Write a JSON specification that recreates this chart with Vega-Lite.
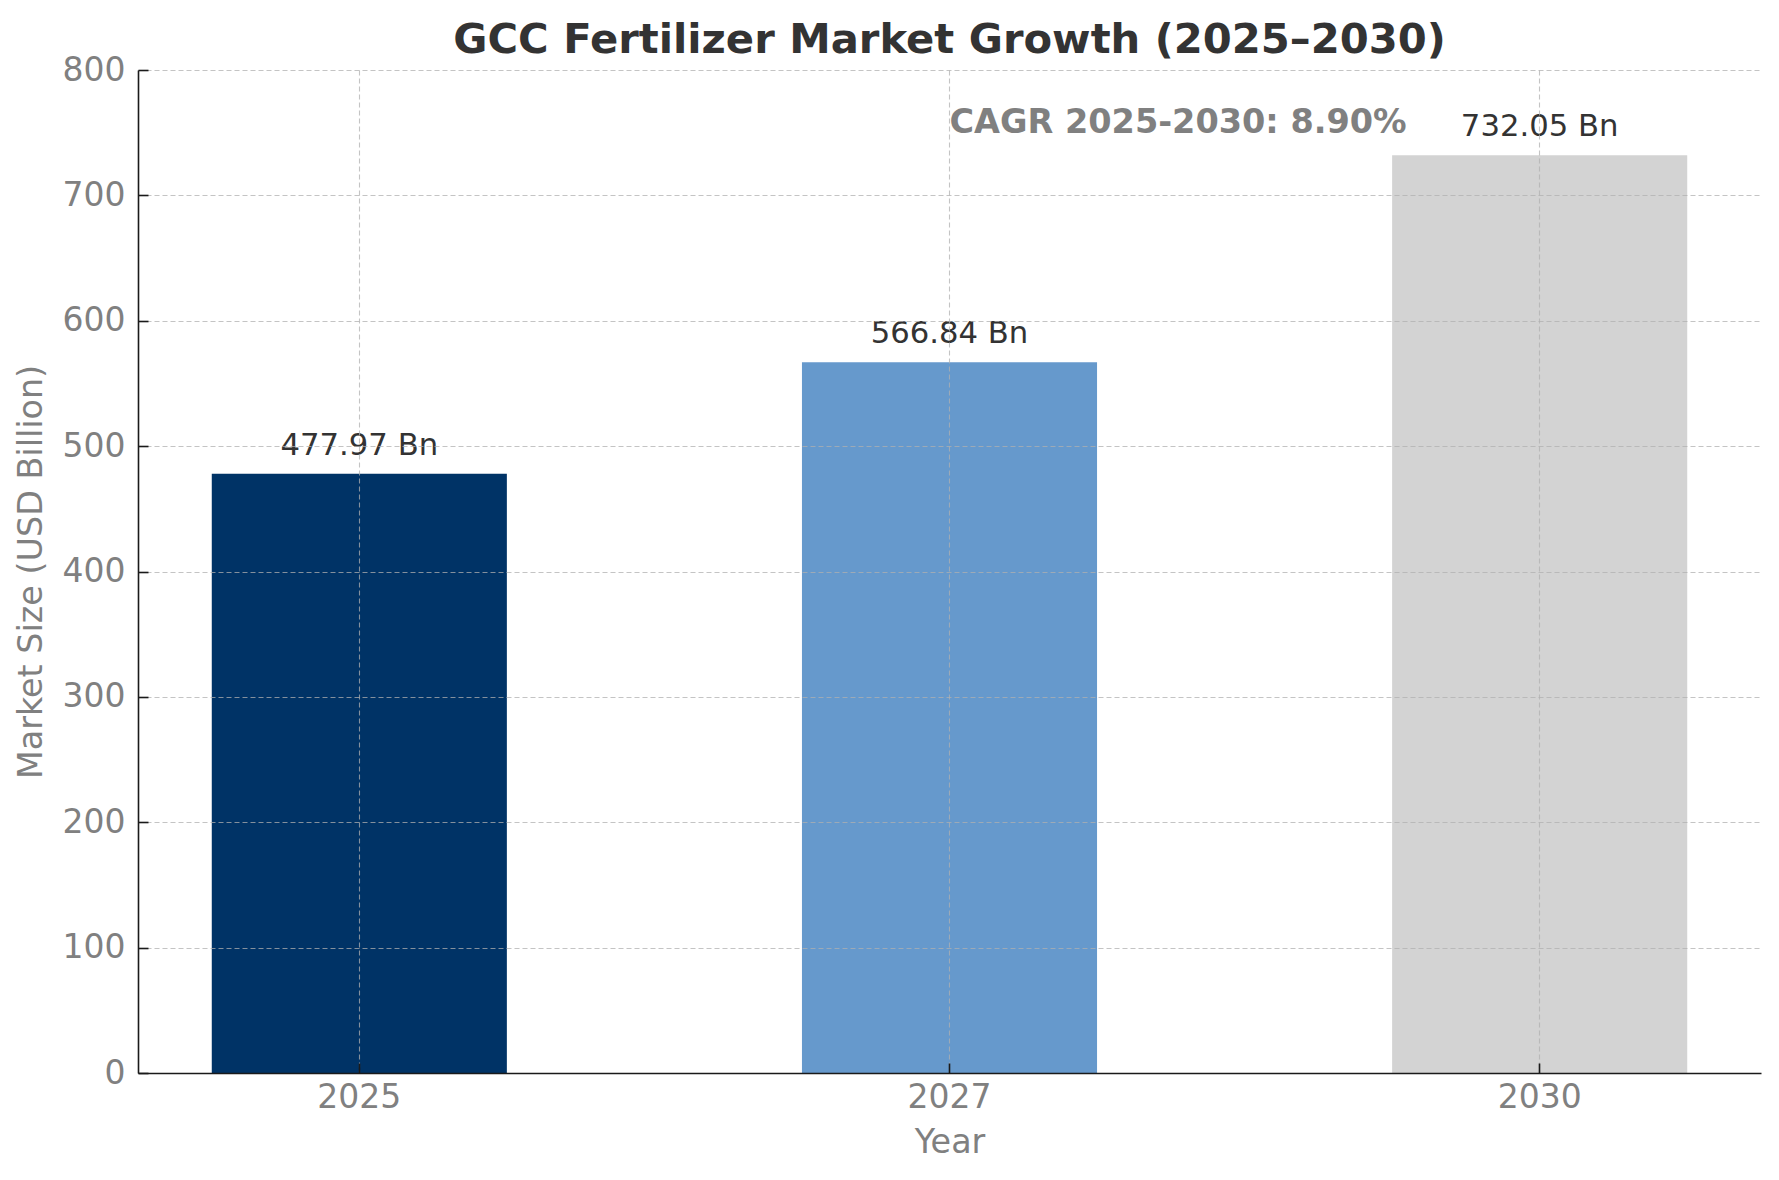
{
  "$schema": "https://vega.github.io/schema/vega-lite/v6.json",
  "width": 1623,
  "height": 1003,
  "autosize": {"type": "none"},
  "padding": {"left": 138, "top": 70, "right": 18, "bottom": 107},
  "background": "white",
  "title": {
    "text": "GCC Fertilizer Market Growth (2025–2030)",
    "font": "DejaVu Sans",
    "fontSize": 41.7,
    "fontWeight": "bold",
    "color": "#333333",
    "anchor": "middle",
    "frame": "group",
    "offset": -8
  },
  "config": {
    "view": {"stroke": null},
    "font": "DejaVu Sans",
    "axis": {
      "labelFont": "DejaVu Sans",
      "titleFont": "DejaVu Sans",
      "labelFontSize": 33,
      "titleFontSize": 33.4,
      "labelColor": "#808080",
      "titleColor": "#808080",
      "titleFontWeight": "normal",
      "domainColor": "#1a1a1a",
      "domainWidth": 1.6,
      "tickColor": "#1a1a1a",
      "tickWidth": 1.6,
      "tickSize": -10,
      "grid": true,
      "gridColor": "#b0b0b0",
      "gridOpacity": 0.75,
      "gridWidth": 1.1,
      "gridDash": [5, 3]
    }
  },
  "data": {
    "values": [
      {"year": "2025", "value": 477.97, "label": "477.97 Bn"},
      {"year": "2027", "value": 566.84, "label": "566.84 Bn"},
      {"year": "2030", "value": 732.05, "label": "732.05 Bn"}
    ]
  },
  "layer": [
    {
      "mark": {"type": "bar"},
      "encoding": {
        "x": {
          "field": "year",
          "type": "nominal",
          "sort": null,
          "scale": {"paddingInner": 0.5, "paddingOuter": 0.125},
          "axis": {
            "title": "Year",
            "labelAngle": 0,
            "bandPosition": 0.5,
            "labelPadding": 18,
            "titlePadding": 12,
            "zindex": 1
          }
        },
        "y": {
          "field": "value",
          "type": "quantitative",
          "scale": {"domain": [0, 800], "nice": false},
          "axis": {
            "title": "Market Size (USD Billion)",
            "values": [0, 100, 200, 300, 400, 500, 600, 700, 800],
            "labelPadding": 23,
            "titlePadding": 14,
            "zindex": 1
          }
        },
        "color": {
          "field": "year",
          "type": "nominal",
          "scale": {"domain": ["2025", "2027", "2030"], "range": ["#003366", "#6699cc", "#d3d3d3"]},
          "legend": null
        }
      }
    },
    {
      "mark": {"type": "text", "baseline": "alphabetic", "align": "center", "dy": -19, "fontSize": 30.7, "color": "#333333", "font": "DejaVu Sans"},
      "encoding": {
        "x": {"field": "year", "type": "nominal", "sort": null},
        "y": {"field": "value", "type": "quantitative"},
        "text": {"field": "label"}
      }
    },
    {
      "data": {"values": [{"year": "2027", "value": 750, "note": "CAGR 2025-2030: 8.90%"}]},
      "mark": {"type": "text", "baseline": "alphabetic", "align": "left", "fontSize": 33.5, "fontWeight": "bold", "color": "#808080", "font": "DejaVu Sans"},
      "encoding": {
        "x": {"field": "year", "type": "nominal"},
        "y": {"field": "value", "type": "quantitative"},
        "text": {"field": "note"}
      }
    }
  ]
}
